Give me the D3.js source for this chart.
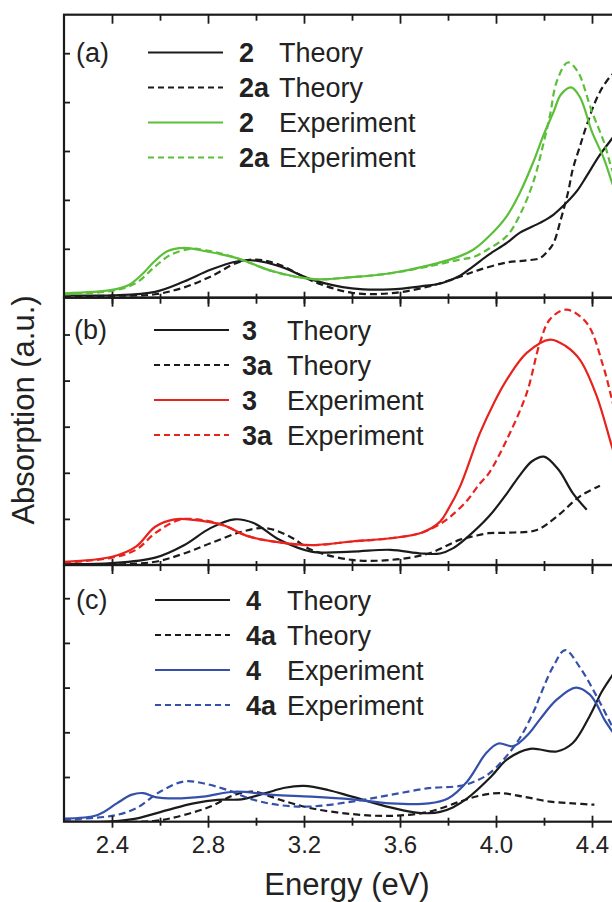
<!DOCTYPE html>
<html>
<head>
<meta charset="utf-8">
<script src="https://cdn.jsdelivr.net/npm/d3@7"></script>
<style>
  body { margin: 0; background: #fff; }
  svg text { font-family: "Liberation Sans", Arial, Helvetica, sans-serif; fill: #222; }
</style>
</head>
<body>
<svg id="chart"></svg>
<script>
// Size of the page
const width = 612;
const height = 902;

// Energy axis (eV)
const majorTicks = [2.4, 2.8, 3.2, 3.6, 4.0, 4.4];
const minorTicks = [2.6, 3.0, 3.4, 3.8, 4.2, 4.6];
const yTicks = [1, 2, 3, 4, 5];

// Panel (a) - values are [energy, absorption in tick units]
const a2Theory = [[2.2,0.05],[2.4,0.05],[2.58,0.12],[2.70,0.33],[2.81,0.57],[2.92,0.74],[3.0,0.76],[3.10,0.64],[3.24,0.36],[3.40,0.19],[3.56,0.17],[3.70,0.24],[3.77,0.29],[3.85,0.45],[3.905,0.64],[3.97,0.88],[4.045,1.12],[4.10,1.33],[4.183,1.53],[4.24,1.70],[4.295,1.95],[4.34,2.20],[4.378,2.49],[4.43,2.90],[4.483,3.25],[4.50,3.36]];
const a2aTheory = [[2.2,0.03],[2.4,0.04],[2.58,0.07],[2.70,0.21],[2.81,0.43],[2.92,0.71],[3.0,0.78],[3.10,0.67],[3.24,0.33],[3.40,0.10],[3.56,0.09],[3.72,0.23],[3.85,0.43],[3.93,0.57],[4.045,0.72],[4.12,0.76],[4.183,0.81],[4.215,0.95],[4.24,1.12],[4.27,1.60],[4.30,2.15],[4.32,2.63],[4.35,3.10],[4.378,3.53],[4.42,4.08],[4.45,4.35],[4.483,4.56],[4.50,4.62]];
const a2Exp = [[2.2,0.09],[2.4,0.16],[2.47,0.26],[2.53,0.50],[2.57,0.71],[2.63,0.95],[2.70,1.02],[2.79,0.95],[2.92,0.81],[3.07,0.54],[3.24,0.38],[3.40,0.42],[3.56,0.50],[3.72,0.66],[3.85,0.85],[3.905,0.98],[3.97,1.25],[4.045,1.67],[4.10,2.15],[4.155,2.77],[4.20,3.35],[4.24,3.80],[4.27,4.15],[4.313,4.30],[4.35,4.10],[4.40,3.39],[4.45,2.84],[4.483,2.36],[4.50,2.15]];
const a2aExp = [[2.2,0.07],[2.4,0.14],[2.50,0.30],[2.58,0.64],[2.645,0.88],[2.73,1.0],[2.79,0.97],[2.92,0.81],[3.07,0.54],[3.24,0.38],[3.40,0.42],[3.56,0.50],[3.72,0.64],[3.85,0.78],[3.905,0.83],[3.97,1.0],[4.045,1.26],[4.10,1.70],[4.155,2.36],[4.20,3.20],[4.225,3.73],[4.253,4.42],[4.299,4.81],[4.34,4.63],[4.40,3.80],[4.45,3.18],[4.483,2.63],[4.50,2.45]];

// Panel (b)
const b3Theory = [[2.2,0.02],[2.4,0.04],[2.58,0.16],[2.70,0.43],[2.81,0.80],[2.91,0.99],[2.99,0.91],[3.10,0.54],[3.23,0.29],[3.40,0.29],[3.56,0.33],[3.69,0.25],[3.767,0.25],[3.82,0.36],[3.88,0.60],[3.97,1.05],[4.045,1.55],[4.10,1.95],[4.15,2.25],[4.20,2.35],[4.26,2.07],[4.32,1.56],[4.378,1.20]];
const b3aTheory = [[2.2,0.0],[2.4,0.01],[2.58,0.07],[2.70,0.25],[2.81,0.47],[2.94,0.72],[3.04,0.80],[3.14,0.62],[3.23,0.33],[3.40,0.11],[3.56,0.11],[3.72,0.25],[3.85,0.55],[3.905,0.62],[3.97,0.69],[4.045,0.70],[4.17,0.76],[4.253,1.05],[4.35,1.49],[4.433,1.72]];
const b3Exp = [[2.2,0.07],[2.4,0.18],[2.50,0.40],[2.58,0.83],[2.66,0.99],[2.74,0.98],[2.86,0.87],[2.97,0.62],[3.10,0.49],[3.23,0.43],[3.40,0.51],[3.56,0.58],[3.69,0.70],[3.767,0.94],[3.80,1.20],[3.85,1.70],[3.933,2.86],[3.99,3.50],[4.045,4.02],[4.128,4.60],[4.225,4.89],[4.29,4.75],[4.35,4.45],[4.42,3.66],[4.483,2.57],[4.50,2.30]];
const b3aExp = [[2.2,0.05],[2.4,0.16],[2.50,0.33],[2.58,0.69],[2.68,0.98],[2.77,0.98],[2.86,0.87],[2.97,0.62],[3.10,0.49],[3.23,0.43],[3.40,0.51],[3.56,0.58],[3.69,0.70],[3.77,0.90],[3.81,1.05],[3.88,1.40],[3.93,1.75],[3.97,1.99],[4.045,2.72],[4.128,3.73],[4.183,4.82],[4.225,5.33],[4.292,5.54],[4.378,5.25],[4.447,4.31],[4.483,3.59],[4.50,3.25]];

// Panel (c)
const c4Theory = [[2.2,0.0],[2.4,0.01],[2.50,0.07],[2.63,0.26],[2.74,0.41],[2.84,0.49],[2.94,0.50],[3.04,0.64],[3.12,0.76],[3.20,0.80],[3.30,0.71],[3.40,0.56],[3.56,0.32],[3.66,0.21],[3.72,0.19],[3.767,0.22],[3.82,0.32],[3.88,0.52],[3.98,1.01],[4.045,1.39],[4.142,1.63],[4.253,1.57],[4.32,1.76],[4.39,2.36],[4.44,2.90],[4.483,3.26],[4.50,3.40]];
const c4aTheory = [[2.2,0.0],[2.58,0.02],[2.70,0.15],[2.81,0.34],[2.91,0.60],[2.99,0.67],[3.10,0.49],[3.23,0.30],[3.40,0.17],[3.56,0.13],[3.72,0.22],[3.85,0.45],[3.93,0.58],[4.017,0.64],[4.114,0.56],[4.225,0.45],[4.32,0.41],[4.41,0.38]];
const c4Exp = [[2.2,0.07],[2.34,0.15],[2.42,0.41],[2.48,0.60],[2.53,0.64],[2.58,0.55],[2.66,0.52],[2.78,0.56],[2.91,0.67],[3.07,0.60],[3.23,0.56],[3.40,0.50],[3.56,0.41],[3.72,0.41],[3.80,0.52],[3.88,0.90],[3.96,1.54],[4.01,1.75],[4.072,1.69],[4.14,1.99],[4.183,2.29],[4.253,2.73],[4.333,3.0],[4.39,2.85],[4.42,2.62],[4.45,2.30],[4.483,2.03],[4.50,1.90]];
const c4aExp = [[2.2,0.05],[2.4,0.13],[2.50,0.30],[2.60,0.67],[2.70,0.90],[2.78,0.86],[2.88,0.71],[2.99,0.49],[3.10,0.37],[3.23,0.34],[3.40,0.45],[3.56,0.60],[3.72,0.75],[3.85,0.80],[3.91,0.90],[3.975,1.09],[4.086,1.76],[4.16,2.50],[4.183,2.81],[4.239,3.48],[4.288,3.84],[4.35,3.45],[4.42,2.80],[4.483,2.15],[4.50,2.00]];

// Colors
const black = "#1b1b1b";
const green = "#5cbf3a";
const red = "#e8231d";
const blue = "#3550aa";

const svg = d3.select("#chart")
  .attr("width", width)
  .attr("height", height);

// x scale shared by the three panels; the right part of the frame falls off the page
const x = d3.scaleLinear()
  .domain([2.2, 4.6])
  .range([64, 640]);

const panels = [
  { label: "(a)", id: "2", top: 14.7, bottom: 297.7, unit: 48.9, color: green,
    series: [a2Theory, a2aTheory, a2Exp, a2aExp], legendY: 52.5, legendX: [148, 223], idX: 239, nameX: 279, labelX: 76 },
  { label: "(b)", id: "3", top: 297.7, bottom: 565, unit: 46.1, color: red,
    series: [b3Theory, b3aTheory, b3Exp, b3aExp], legendY: 330, legendX: [154, 229], idX: 242, nameX: 287, labelX: 74 },
  { label: "(c)", id: "4", top: 565, bottom: 821.7, unit: 44.7, color: blue,
    series: [c4Theory, c4aTheory, c4Exp, c4aExp], legendY: 600, legendX: [155, 230], idX: 246, nameX: 287, labelX: 76 }
];

const rowGap = 35;

panels.forEach((p, i) => {
  const y = d3.scaleLinear()
    .domain([0, 1])
    .range([p.bottom, p.bottom - p.unit]);

  const g = svg.append("g");

  // curves
  const clipId = "clip" + i;
  svg.append("clipPath").attr("id", clipId)
    .append("rect")
    .attr("x", x(2.2)).attr("y", p.top)
    .attr("width", x(4.6) - x(2.2)).attr("height", p.bottom - p.top);

  const line = d3.line()
    .x(d => x(d[0]))
    .y(d => y(d[1]))
    .curve(d3.curveCatmullRom.alpha(0.5));

  const styles = [
    { color: black, dash: null },
    { color: black, dash: "7,4" },
    { color: p.color, dash: null },
    { color: p.color, dash: "7,4" }
  ];

  g.append("g").attr("clip-path", `url(#${clipId})`)
    .selectAll("path")
    .data(p.series)
    .enter().append("path")
    .attr("d", line)
    .attr("fill", "none")
    .attr("stroke", (d, k) => styles[k].color)
    .attr("stroke-width", 2.2)
    .attr("stroke-dasharray", (d, k) => styles[k].dash);

  // ticks: bottom (inward and outward), top (inward), left (inward)
  const bottomMajor = g.append("g")
    .attr("transform", `translate(0,${p.bottom})`)
    .call(d3.axisBottom(x).tickValues(majorTicks).tickSize(6).tickFormat(""));
  const bottomMajorIn = g.append("g")
    .attr("transform", `translate(0,${p.bottom})`)
    .call(d3.axisBottom(x).tickValues(majorTicks).tickSize(-6).tickFormat(""));
  g.append("g")
    .attr("transform", `translate(0,${p.bottom})`)
    .call(d3.axisBottom(x).tickValues(minorTicks).tickSize(-4).tickFormat(""));
  g.append("g")
    .attr("transform", `translate(0,${p.top})`)
    .call(d3.axisTop(x).tickValues(majorTicks).tickSize(-9).tickFormat(""));
  g.append("g")
    .attr("transform", `translate(0,${p.top})`)
    .call(d3.axisTop(x).tickValues(minorTicks).tickSize(-6).tickFormat(""));
  g.append("g")
    .attr("transform", `translate(${x(2.2)},0)`)
    .call(d3.axisLeft(y).tickValues(yTicks).tickSize(-6).tickFormat(""));

  if (i === 2) {
    g.append("g")
      .attr("transform", `translate(0,${p.bottom})`)
      .call(d3.axisBottom(x).tickValues(minorTicks).tickSize(4).tickFormat(""));
    const labels = g.append("g")
      .attr("transform", `translate(0,${p.bottom})`)
      .call(d3.axisBottom(x).tickValues(majorTicks).tickSize(0).tickFormat(d3.format(".1f")));
    labels.selectAll("text")
      .attr("y", 31)
      .attr("dy", 0)
      .style("font-size", "24px")
      .style("fill", "#222");
  }

  g.selectAll(".domain").remove();
  g.selectAll(".tick line").attr("stroke", black).attr("stroke-width", 1.8);

  // frame
  g.append("rect")
    .attr("x", x(2.2)).attr("y", p.top)
    .attr("width", x(4.6) - x(2.2)).attr("height", p.bottom - p.top)
    .attr("fill", "none")
    .attr("stroke", black)
    .attr("stroke-width", 2.2);

  // panel label
  g.append("text")
    .attr("x", p.labelX)
    .attr("y", p.legendY + 9)
    .style("font-size", "27px")
    .text(p.label);

  // legend
  const names = [
    [p.id, "Theory"],
    [p.id + "a", "Theory"],
    [p.id, "Experiment"],
    [p.id + "a", "Experiment"]
  ];
  names.forEach((n, k) => {
    const ly = p.legendY + k * rowGap;
    g.append("line")
      .attr("x1", p.legendX[0]).attr("x2", p.legendX[1])
      .attr("y1", ly).attr("y2", ly)
      .attr("stroke", styles[k].color)
      .attr("stroke-width", 2.2)
      .attr("stroke-dasharray", styles[k].dash ? "6,4" : null);
    g.append("text")
      .attr("x", p.idX).attr("y", ly + 9.5)
      .style("font-size", "27px")
      .style("font-weight", "bold")
      .text(n[0]);
    g.append("text")
      .attr("x", p.nameX - (p.id === "2" ? 0 : 0)).attr("y", ly + 9.5)
      .style("font-size", "27px")
      .text(n[1]);
  });
});

// axis titles
svg.append("text")
  .attr("x", 347)
  .attr("y", 895)
  .attr("text-anchor", "middle")
  .style("font-size", "31px")
  .text("Energy (eV)");

svg.append("text")
  .attr("transform", "translate(34,410) rotate(-90)")
  .attr("text-anchor", "middle")
  .style("font-size", "31px")
  .text("Absorption (a.u.)");
</script>
</body>
</html>
